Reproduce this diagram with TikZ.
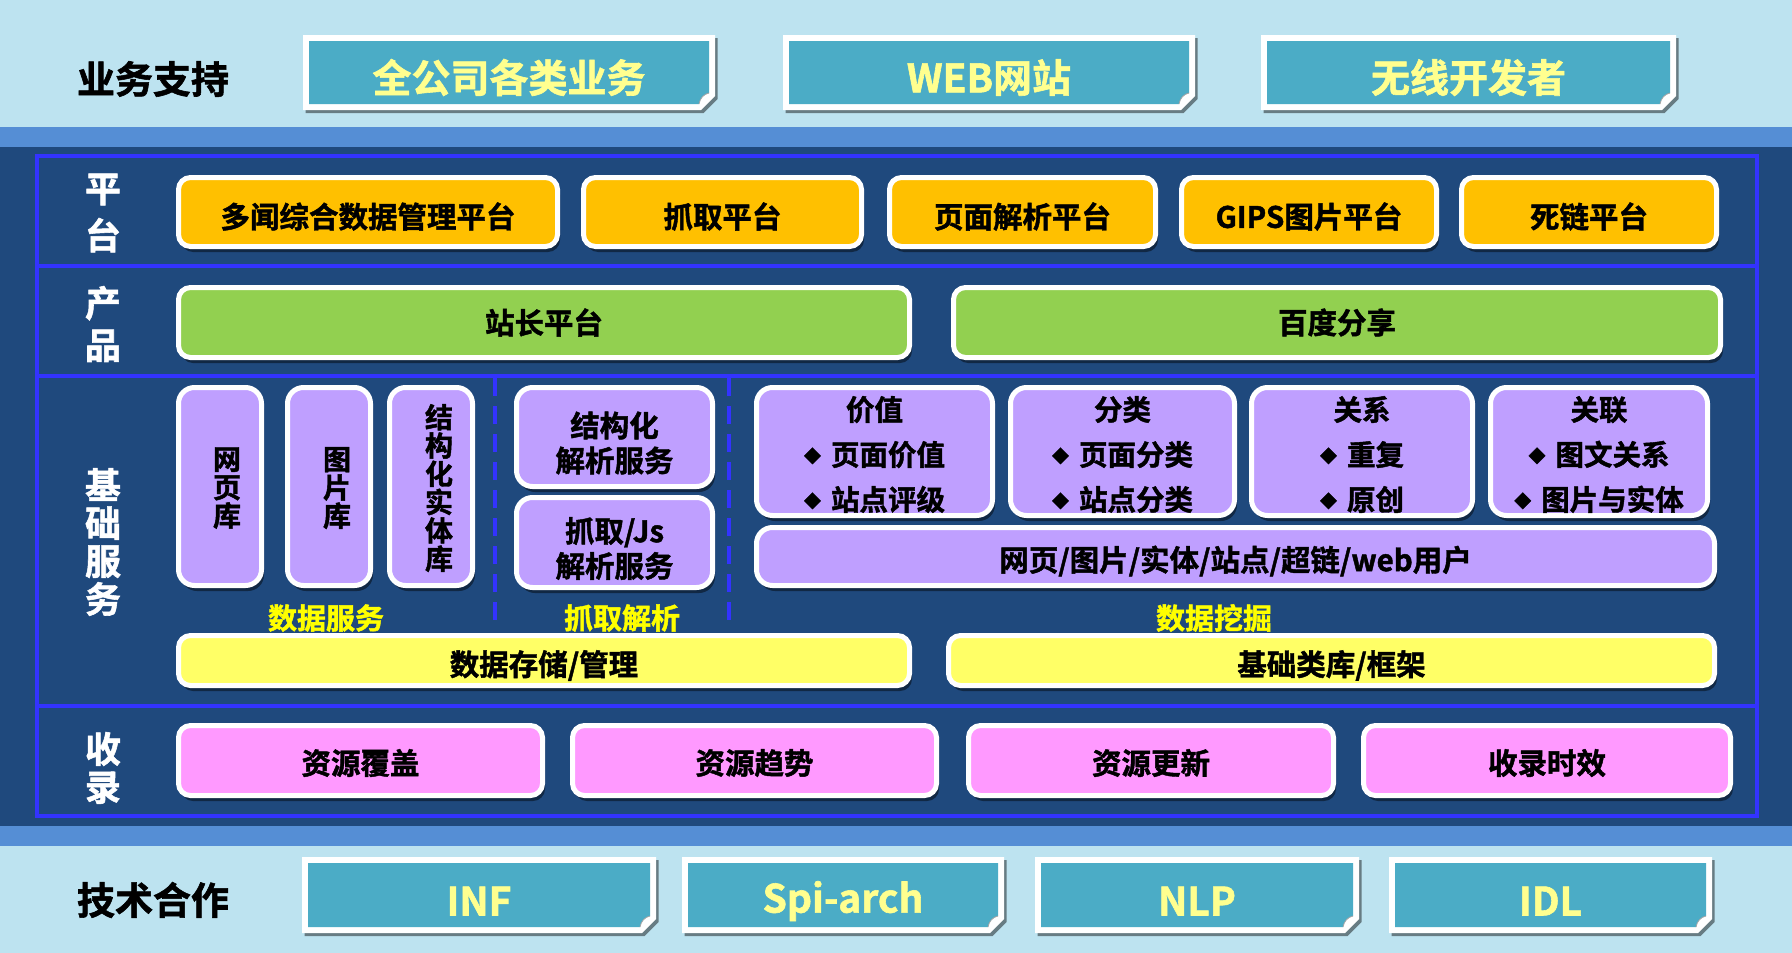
\documentclass[tikz,border=0pt]{standalone}
\usepackage{fontspec}
\setmainfont{Noto Sans CJK SC}[BoldFont={Noto Sans CJK SC Bold}, BoldFeatures={FakeBold=1.5}]
\usetikzlibrary{shadows}

\definecolor{bandlight}{HTML}{BDE3F0}
\definecolor{bandmid}{HTML}{558ED5}
\definecolor{bgnavy}{HTML}{1F497D}
\definecolor{framebl}{HTML}{3333FF}
\definecolor{tealbox}{HTML}{4BACC6}
\definecolor{paleyel}{HTML}{FFFF8F}
\definecolor{orangebox}{HTML}{FFC000}
\definecolor{greenbox}{HTML}{92D050}
\definecolor{purplebox}{HTML}{BF9FFF}
\definecolor{yelbox}{HTML}{FFFF66}
\definecolor{pinkbox}{HTML}{FF99FF}
\definecolor{labyel}{HTML}{FFFF00}

\newcommand\fs[2]{\fontsize{#1}{#2}\selectfont\bfseries}
\newcommand\bul{\raisebox{3pt}{\fontsize{17}{17}\selectfont ◆}\hspace{10pt}}

\tikzset{
  rbox/.style={draw=white, line width=5pt, rounded corners=12pt, inner sep=0pt,
    drop shadow={shadow xshift=2.5pt, shadow yshift=-5.5pt, opacity=0.45, fill=black}},
  orbox/.style={rbox, fill=orangebox},
  grbox/.style={rbox, fill=greenbox},
  pubox/.style={rbox, fill=purplebox, rounded corners=16pt},
  yebox/.style={rbox, fill=yelbox},
  pibox/.style={rbox, fill=pinkbox},
  boxtext/.style={font=\fs{29.5}{35}, align=center, text=black, inner sep=0pt},
  listtext/.style={font=\fs{28.5}{45}, align=center, text=black, inner sep=0pt},
  vtext/.style={font=\fs{28}{28.3}, align=center, text=black, inner sep=0pt},
  sidelab/.style={font=\fs{36}{#1}, align=center, text=white, inner sep=0pt},
  bandlab/.style={font=\fs{38}{38}, text=black, inner sep=0pt},
  grouplab/.style={font=\fs{29}{29}, text=labyel, inner sep=0pt},
  foldtext/.style={font=\fs{39}{39}, text=paleyel, inner sep=0pt},
  frameline/.style={draw=framebl, line width=3.5pt},
  dashline/.style={draw=framebl, line width=4pt, dash pattern=on 18pt off 10pt},
}

% [#1 text drop], #2 style, #3 name, #4 x1, #5 y1, #6 x2, #7 y2, #8 text
\newcommand\bx[8][0]{%
  \node[#2, minimum width={#6-#4-5}, minimum height={#7-#5-5}] (#3) at ({(#4+#6)/2},{(#5+#7)/2}) {};
  \node[boxtext] (#3t) at ([yshift=-#1pt]#3.center) {#8};}

% [#1 text drop], #2 name, #3 x1, #4 y1, #5 x2, #6 y2, #7 text
\newcommand\fold[7][5]{%
  \fill[white, drop shadow={shadow xshift=2.5pt, shadow yshift=-3pt, opacity=0.45, fill=black}]
    (#3,#4) -- (#5,#4) -- (#5,{#6-14}) -- ({#5-14},#6) -- (#3,#6) -- cycle;
  \fill[tealbox] ({#3+6},{#4+6}) -- ({#5-6},{#4+6}) -- ({#5-6},{#6-17})
    .. controls ({#5-11},{#6-16}) and ({#5-15},{#6-12}) .. ({#5-16},{#6-6}) -- ({#3+6},{#6-6}) -- cycle;
  \draw[black!35, line width=0.8pt] ({#5-6},{#6-17}) .. controls ({#5-11},{#6-16}) and ({#5-15},{#6-12}) .. ({#5-16},{#6-6});
  \node[foldtext] (#2) at ({(#3+#5)/2},{(#4+#6)/2+#1}) {#7};
}

\begin{document}
\begin{tikzpicture}[x=1pt, y=-1pt]
\useasboundingbox (0,0) rectangle (1792,953);

% background bands
\fill[bandlight] (0,0) rectangle (1792,127);
\fill[bandmid] (0,127) rectangle (1792,147);
\fill[bgnavy] (0,147) rectangle (1792,826);
\fill[bandmid] (0,826) rectangle (1792,846);
\fill[bandlight] (0,846) rectangle (1792,953);

% top band
\node[bandlab] (ywzc) at (153,79) {业务支持};
\fold{top1}{303}{35}{715}{110}{全公司各类业务}
\fold{top2}{783}{35}{1195}{110}{WEB网站}
\fold{top3}{1261}{35}{1676}{110}{无线开发者}

% bottom band
\node[bandlab] (jshz) at (153,900) {技术合作};
\fold[6]{bot1}{302}{857}{656}{933}{INF}
\fold[6]{bot2}{682}{857}{1004}{933}{Spi-arch}
\fold[6]{bot3}{1035}{857}{1359}{933}{NLP}
\fold[6]{bot4}{1389}{857}{1712}{933}{IDL}

% frame
\draw[frameline] (37,156) rectangle (1757,816);
\draw[frameline] (37,266) -- (1757,266);
\draw[frameline] (37,376) -- (1757,376);
\draw[frameline] (37,706) -- (1757,706);

% side labels
\node[sidelab=47] (lab1) at (103,213) {平\\台};
\node[sidelab=42] (lab2) at (103,324) {产\\品};
\node[sidelab=38] (lab3) at (103,542) {基\\础\\服\\务};
\node[sidelab=38] (lab4) at (103,768) {收\\录};

% platform row
\bx[4.5]{orbox}{p1}{176}{175}{560}{249}{多闻综合数据管理平台}
\bx[4.5]{orbox}{p2}{581}{175}{864}{249}{抓取平台}
\bx[4.5]{orbox}{p3}{887}{175}{1158}{249}{页面解析平台}
\bx[4.5]{orbox}{p4}{1179}{175}{1439}{249}{GIPS图片平台}
\bx[4.5]{orbox}{p5}{1459}{175}{1719}{249}{死链平台}

% product row
\bx{grbox}{g1}{176}{285}{912}{360}{站长平台}
\bx{grbox}{g2}{951}{285}{1723}{360}{百度分享}

% basic services
\bx{pubox}{s1}{176}{385}{264}{588}{}
\bx{pubox}{s2}{285}{385}{373}{588}{}
\bx{pubox}{s3}{387}{385}{475}{588}{}
\node[vtext] (s1l) at (227,488) {网\\页\\库};
\node[vtext] (s2l) at (337,488) {图\\片\\库};
\node[vtext] (s3l) at (439,488) {结\\构\\化\\实\\体\\库};

\bx[6]{pubox}{c1}{514}{385}{715}{489}{结构化\\解析服务}
\bx[6]{pubox}{c2}{514}{495}{715}{590}{抓取/Js\\解析服务}

\bx{pubox}{m1}{754}{385}{995}{518}{}
\bx{pubox}{m2}{1008}{385}{1237}{518}{}
\bx{pubox}{m3}{1249}{385}{1475}{518}{}
\bx{pubox}{m4}{1488}{385}{1710}{518}{}
\node[listtext] (m1l) at ([yshift=-3pt]m1.center) {价值\\\bul 页面价值\\\bul 站点评级};
\node[listtext] (m2l) at ([yshift=-3pt]m2.center) {分类\\\bul 页面分类\\\bul 站点分类};
\node[listtext] (m3l) at ([yshift=-3pt]m3.center) {关系\\\bul 重复\\\bul 原创};
\node[listtext] (m4l) at ([yshift=-3pt]m4.center) {关联\\\bul 图文关系\\\bul 图片与实体};
\bx[4.5]{pubox}{m5}{754}{525}{1717}{588}{网页/图片/实体/站点/超链/web用户}

\draw[dashline] (495,378) -- (495,627);
\draw[dashline] (729,378) -- (729,627);

\node[grouplab] (gl1) at (326,618) {数据服务};
\node[grouplab] (gl2) at (622,618) {抓取解析};
\node[grouplab] (gl3) at (1214,618) {数据挖掘};

\bx[5]{yebox}{y1}{176}{633}{912}{688}{数据存储/管理}
\bx[5]{yebox}{y2}{946}{633}{1717}{688}{基础类库/框架}

% collection row
\bx[2.5]{pibox}{k1}{176}{723}{545}{798}{资源覆盖}
\bx[2.5]{pibox}{k2}{570}{723}{939}{798}{资源趋势}
\bx[2.5]{pibox}{k3}{966}{723}{1336}{798}{资源更新}
\bx[2.5]{pibox}{k4}{1361}{723}{1733}{798}{收录时效}
\end{tikzpicture}
\end{document}
